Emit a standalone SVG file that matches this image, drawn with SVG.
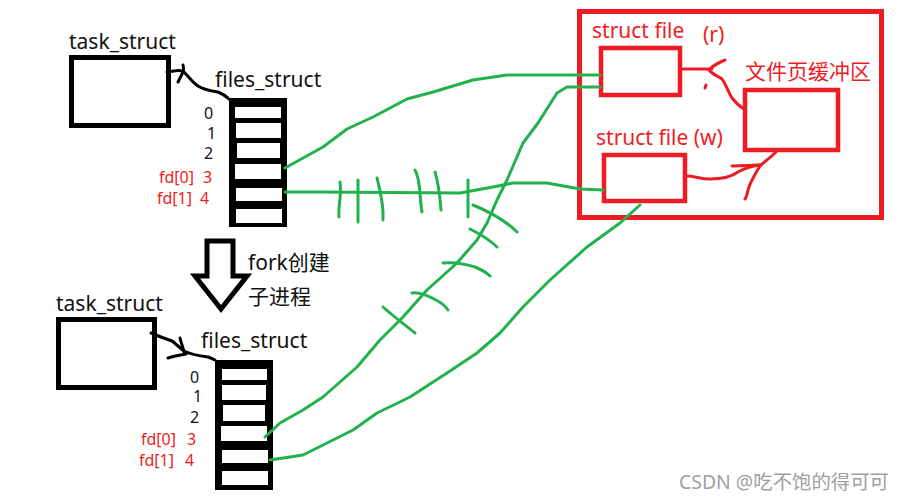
<svg xmlns="http://www.w3.org/2000/svg" width="905" height="501" viewBox="0 0 905 501">
<style>
text{font-family:"Noto Sans","Noto Sans CJK SC",sans-serif}
.lbl{font-size:21px;fill:#111}
.num{font-size:16px;fill:#111}
.rnum{font-size:16px;fill:#ed1c24}
.rlbl{font-size:21px;fill:#ed1c24}
.blk{fill:none;stroke:#000;stroke-width:5}
.cell{fill:#fff}
.g{fill:none;stroke:#22b14c;stroke-width:3;stroke-linecap:round;stroke-linejoin:round}
.r{fill:none;stroke:#ed1c24;stroke-width:3;stroke-linecap:round;stroke-linejoin:round}
.rbox{fill:none;stroke:#ed1c24;stroke-width:4.5}
.ink{fill:none;stroke:#000;stroke-width:3;stroke-linecap:round;stroke-linejoin:round}
</style>
<rect width="905" height="501" fill="#fff"/>

<g id="parent_task_struct">
<text class="lbl" x="69" y="49">task_struct</text>
<rect class="blk" x="71.5" y="57.5" width="97" height="68"/>
</g>

<g id="parent_files_struct">
<text class="lbl" x="215" y="87">files_struct</text>
<rect x="229" y="98" width="58" height="129" fill="#000"/>
<rect class="cell" x="235" y="107" width="46" height="11"/>
<rect class="cell" x="236" y="123" width="45" height="15"/>
<rect class="cell" x="237" y="143" width="43" height="15"/>
<rect class="cell" x="235" y="164" width="46" height="15"/>
<rect class="cell" x="236" y="188" width="46" height="13"/>
<rect class="cell" x="236" y="209" width="46" height="14"/>
<text class="num" x="204" y="119">0</text>
<text class="num" x="207" y="139">1</text>
<text class="num" x="204" y="159">2</text>
<text class="rnum" x="159" y="183">fd[0]</text>
<text class="rnum" x="203" y="183">3</text>
<text class="rnum" x="157" y="204">fd[1]</text>
<text class="rnum" x="200" y="204">4</text>
</g>

<g id="fork_arrow">
<polygon points="207,241 233,241 233,276 247,276 221,309 195,276 207,276" fill="none" stroke="#000" stroke-width="5" stroke-linejoin="miter"/>
<text class="lbl" x="248" y="270">fork创建</text>
<text class="lbl" x="248" y="304">子进程</text>
</g>

<g id="child_task_struct">
<text class="lbl" x="56" y="311">task_struct</text>
<rect class="blk" x="58.5" y="319.5" width="96" height="68"/>
</g>

<g id="child_files_struct">
<text class="lbl" x="201" y="348">files_struct</text>
<rect x="215" y="360" width="58" height="130" fill="#000"/>
<rect class="cell" x="222" y="369" width="45" height="11"/>
<rect class="cell" x="222" y="385" width="44" height="15"/>
<rect class="cell" x="223" y="405" width="42" height="16"/>
<rect class="cell" x="221" y="426" width="46" height="15"/>
<rect class="cell" x="222" y="450" width="46" height="13"/>
<rect class="cell" x="222" y="471" width="46" height="14"/>
<text class="num" x="190" y="383">0</text>
<text class="num" x="193" y="402">1</text>
<text class="num" x="190" y="423">2</text>
<text class="rnum" x="141" y="445">fd[0]</text>
<text class="rnum" x="187" y="445">3</text>
<text class="rnum" x="139" y="466">fd[1]</text>
<text class="rnum" x="185" y="466">4</text>
</g>

<g id="kernel_box">
<rect x="579.5" y="11.5" width="302" height="206" fill="none" stroke="#ed1c24" stroke-width="5"/>
</g>

<g id="struct_file_r">
<text class="rlbl" x="592" y="38">struct file</text>
<text class="rlbl" x="703" y="42" font-size="20">(r)</text>
<rect class="rbox" x="601" y="48" width="79" height="47"/>
</g>

<g id="struct_file_w">
<text class="rlbl" x="596" y="145">struct file (w)</text>
<rect class="rbox" x="604" y="155" width="81" height="46"/>
</g>

<g id="page_buffer">
<text class="rlbl" x="745" y="79">文件页缓冲区</text>
<rect class="rbox" x="745" y="90" width="93" height="60"/>
</g>

<g id="connectors">
<path class="ink" d="M167,72 C175,71 180,69 184,72 C188,76 192,82 198,86 C204,90 212,91 218,92 C223,94 226,96 229,99"/>
<path class="ink" d="M183,65 C184,69 184,71 182,74 M182,74 C180,78 179,80 178,82"/>
<path class="ink" d="M151,333 C158,336 166,339 172,341 C176,344 180,348 184,351 C190,354 200,356 208,357 C211,358 213,359 215,360"/>
<path class="ink" d="M180,338 C181,343 183,347 184,352 M168,358 C174,356 180,355 186,354"/>

<path class="g" d="M285,168 L323,147 L347,129 L373,117 L407,99 L433,92 L473,80 L507,75 L600,75"/>
<path class="g" d="M265,437 L280,423 L303,410 L323,397 L357,367 L380,340 L403,317 L427,290 L457,263 L477,240 L487,223 L497,200 L507,180 L523,143 L538,123 L557,93 L567,87 L600,87"/>
<path class="g" d="M285,192 L320,192 L460,193 L493,187 L513,183 L547,183 L580,189 L603,190"/>
<path class="g" d="M270,460 L303,455 L327,443 L353,430 L377,413 L410,397 L447,373 L477,353 L500,333 L523,307 L550,280 L587,247 L620,223 L640,205"/>
<path class="g" d="M340,182 C342,195 338,205 339,217"/>
<path class="g" d="M358,180 L358,222"/>
<path class="g" d="M377,178 C380,190 384,205 383,220"/>
<path class="g" d="M415,170 C421,180 419,195 422,212"/>
<path class="g" d="M435,172 C439,185 440,197 441,210"/>
<path class="g" d="M468,180 L468,217"/>
<path class="g" d="M473,205 C490,212 505,220 517,232"/>
<path class="g" d="M470,229 C480,234 490,240 497,247"/>
<path class="g" d="M443,263 C455,262 465,264 475,267 C482,270 487,273 490,276"/>
<path class="g" d="M412,293 C420,292 428,296 436,300 C442,303 446,307 448,310"/>
<path class="g" d="M383,307 C393,316 405,325 415,333"/>

<path class="r" d="M682,69 L712,69"/>
<path class="r" d="M725,60 C718,63 712,66 709,70 C712,74 718,76 722,79 C727,86 728,92 732,98 C736,103 739,106 744,109"/>
<path class="r" d="M706,85 L705,88"/>
<path class="r" d="M686,176 C695,176 700,179 710,179 C720,179 730,178 738,172 C745,168 752,166 760,165"/>
<path class="r" d="M732,166 L760,165"/>
<path class="r" d="M776,152 C770,158 764,162 760,166 C755,174 750,183 748,190 C747,195 746,198 745,199"/>
</g>

<text x="679" y="489" font-size="19" fill="#a0a0a0" textLength="210" lengthAdjust="spacingAndGlyphs">CSDN @吃不饱的得可可</text>
</svg>
